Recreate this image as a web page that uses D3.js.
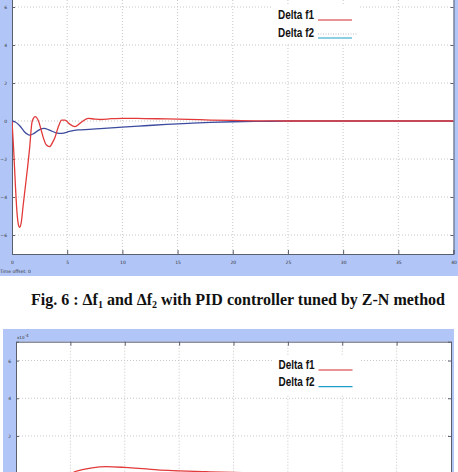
<!DOCTYPE html>
<html>
<head>
<meta charset="utf-8">
<script src="https://cdn.jsdelivr.net/npm/d3@7"></script>
<style>
  body { margin:0; background:#fff; }
  svg { display:block; }
</style>
</head>
<body>
<svg id="drawing_region"></svg>
<script>
// Fig. 6 : PID tuned by Z-N (values x10^-3)
const t_f1_zn = [0, 0.15, 0.3, 0.45, 0.6, 0.7, 0.85, 1.0, 1.2, 1.4, 1.6, 1.8, 1.95, 2.1, 2.4, 2.7, 2.85, 3.1, 3.4, 3.7, 3.9, 4.2, 4.5, 4.8, 5.2, 5.7, 6.2, 6.9, 7.5, 8, 9, 10, 12, 14, 16, 18, 20, 22, 25, 30, 35, 40];
const f1_zn = [0, -1.5, -3.3, -4.8, -5.5, -5.6, -5.3, -4.5, -3.5, -2.5, -1.4, -0.1, 0.15, 0.23, 0.0, -0.6, -0.9, -1.25, -1.35, -1.1, -0.85, -0.3, 0.05, 0.05, -0.15, -0.3, -0.1, 0.14, 0.1, 0.08, 0.12, 0.14, 0.13, 0.11, 0.09, 0.05, 0.03, 0.01, 0, 0, 0, 0];
const t_f2_zn = [0, 0.3, 0.7, 1.1, 1.6, 2.0, 2.5, 2.9, 3.4, 4.0, 4.5, 5.2, 6, 7, 8, 9, 10, 12, 14, 16, 18, 20, 22, 25, 30, 40];
const f2_zn = [0, -0.05, -0.25, -0.55, -0.74, -0.65, -0.45, -0.39, -0.48, -0.62, -0.65, -0.55, -0.47, -0.44, -0.4, -0.36, -0.32, -0.25, -0.18, -0.12, -0.07, -0.04, -0.02, 0, 0, 0];

// next figure, only its top is in the picture (values x10^-4)
const t_f1_next = [0, 0.5, 1, 2, 3, 4, 5, 5.4, 6, 7, 8.3, 10, 12, 13, 15, 17.5, 20, 25, 30, 40];
const f1_next = [0, -4, -3, -1.8, -1, -0.45, -0.05, 0.1, 0.2, 0.31, 0.37, 0.33, 0.25, 0.2, 0.15, 0.1, 0.06, 0.02, 0, 0];
const t_f2_next = [0, 1, 2, 4, 6, 8, 10, 15, 20, 25, 30, 40];
const f2_next = [0, -1.5, -2.2, -1.6, -1.0, -0.6, -0.35, -0.1, -0.03, 0, 0, 0];

const x_ticks = [0, 5, 10, 15, 20, 25, 30, 35, 40];
const y_ticks = [-6, -4, -2, 0, 2, 4, 6];
const legend_labels = ['Delta f1', 'Delta f2'];

const H = 472;

const svg = d3.select('#drawing_region')
    .attr('width', 458)
    .attr('height', H);

class ScopePlot {

    constructor( config, series ) {
        this.config = config;
        this.series = series;
        this.init();
    }

    init() {
        let self = this;
        let c = self.config;

        self.g = svg.append('g');

        // blue figure background
        self.g.append('rect')
            .attr('x', c.panel[0]).attr('y', c.panel[1])
            .attr('width', c.panel[2] - c.panel[0])
            .attr('height', c.panel[3] - c.panel[1])
            .attr('fill', '#b1c6f7');

        self.xscale = d3.scaleLinear()
            .domain([0, 40])
            .range([c.left, c.right]);

        self.yscale = d3.scaleLinear()
            .domain([-7, 7])
            .range([c.bottom, c.top]);

        self.g.append('rect')
            .attr('x', c.left).attr('y', c.top)
            .attr('width', c.right - c.left)
            .attr('height', c.bottom - c.top)
            .attr('fill', '#fff');

        self.clip_id = 'clip' + c.name;
        self.g.append('clipPath').attr('id', self.clip_id)
            .append('rect')
            .attr('x', c.left).attr('y', c.top)
            .attr('width', c.right - c.left)
            .attr('height', c.bottom - c.top);
    }

    render() {
        let self = this;
        let c = self.config;

        // grid
        let grid = self.g.append('g')
            .attr('stroke', '#c8c8c8')
            .attr('stroke-width', 1)
            .attr('stroke-dasharray', '1,2');
        grid.selectAll('.vg')
            .data(x_ticks.slice(1, -1))
            .join('line')
            .attr('x1', d => self.xscale(d)).attr('x2', d => self.xscale(d))
            .attr('y1', c.top).attr('y2', c.bottom);
        grid.selectAll('.hg')
            .data(y_ticks)
            .join('line')
            .attr('x1', c.left).attr('x2', c.right)
            .attr('y1', d => self.yscale(d)).attr('y2', d => self.yscale(d));

        // legend box hides grid
        let lg = self.g.append('g');
        lg.append('rect')
            .attr('x', c.legend.x - 6).attr('y', c.legend.y - 10)
            .attr('width', 88).attr('height', 39)
            .attr('fill', '#fff');

        // only label what falls inside the picture
        let inView = v => v > 0 && v < H - 4;
        let fmt = d3.format('d');

        // axes (ticks inside the box on all four sides)
        let xb = d3.axisBottom(self.xscale).tickValues(x_ticks).tickSize(-4).tickPadding(7)
            .tickFormat(d => inView(c.bottom + 8) ? fmt(d) : '');
        let xt = d3.axisTop(self.xscale).tickValues(x_ticks).tickSize(-4).tickFormat('');
        let yl = d3.axisLeft(self.yscale).tickValues(y_ticks).tickSize(-3).tickPadding(5)
            .tickFormat(d => inView(self.yscale(d)) ? fmt(d) : '');
        let yr = d3.axisRight(self.yscale).tickValues(y_ticks).tickSize(-3).tickFormat('');

        let axes = [
            self.g.append('g').attr('transform', `translate(0,${c.bottom})`).call(xb),
            self.g.append('g').attr('transform', `translate(0,${c.top})`).call(xt),
            self.g.append('g').attr('transform', `translate(${c.left},0)`).call(yl),
            self.g.append('g').attr('transform', `translate(${c.right},0)`).call(yr),
        ];
        axes.forEach(a => {
            a.select('.domain').attr('stroke', '#5a5f6e');
            a.selectAll('.tick line').attr('stroke', '#5a5f6e');
            a.selectAll('text').filter(function() { return this.textContent === ''; }).remove();
            a.selectAll('text')
                .attr('font-family', 'DejaVu Sans')
                .attr('font-size', 4.5)
                .attr('fill', '#333');
        });

        // curves
        let line = d3.line()
            .x(d => self.xscale(d.t))
            .y(d => self.yscale(d.v))
            .curve(d3.curveMonotoneX);

        let curves = self.g.append('g').attr('clip-path', `url(#${self.clip_id})`);
        self.series.forEach(s => {
            curves.append('path')
                .datum(s.t.map((t, i) => ({t: t, v: s.v[i]})))
                .attr('d', line)
                .attr('fill', 'none')
                .attr('stroke', s.color)
                .attr('stroke-width', 1.3);
        });

        // legend
        legend_labels.forEach((label, i) => {
            let y = c.legend.y + i * c.legend.step;
            lg.append('text')
                .attr('x', c.legend.x).attr('y', y + 4)
                .attr('font-family', '"Liberation Sans", Arial, sans-serif')
                .attr('font-weight', 'bold')
                .attr('font-size', 12)
                .attr('textLength', 36)
                .attr('lengthAdjust', 'spacingAndGlyphs')
                .attr('fill', '#111')
                .text(label);
            if (i == 1 && c.dotted) {
                lg.append('line')
                    .attr('x1', c.legend.x + 40).attr('x2', c.legend.x + 80)
                    .attr('y1', y + 1).attr('y2', y + 1)
                    .attr('stroke', '#bbb').attr('stroke-dasharray', '1,1.5');
            }
            lg.append('line')
                .attr('x1', c.legend.x + 40).attr('x2', c.legend.x + 74)
                .attr('y1', y + 5).attr('y2', y + 5)
                .attr('stroke', i == 0 ? '#d42a2a' : '#1e9ec8')
                .attr('stroke-width', 1.2);
        });

        if (c.exponent) {
            let e = self.g.append('text')
                .attr('x', c.left + 1).attr('y', c.top - 3)
                .attr('font-family', 'DejaVu Sans')
                .attr('font-size', 4)
                .attr('fill', '#333')
                .text('x10');
            e.append('tspan').attr('dy', -2).text(c.exponent);
        }
        if (c.offset_label) {
            self.g.append('text')
                .attr('x', 0).attr('y', c.bottom + 19)
                .attr('font-family', 'DejaVu Sans')
                .attr('font-size', 4.5)
                .attr('fill', '#333')
                .text(c.offset_label);
        }
    }
}

let zn_plot = new ScopePlot({
    name: 'zn',
    panel: [0, -20, 458, 276],
    left: 12, right: 453.5, top: -12, bottom: 254,
    legend: {x: 278, y: 15, step: 18},
    dotted: true,
    offset_label: 'Time offset:  0',
}, [
    {t: t_f2_zn, v: f2_zn, color: '#3d4b9e'},
    {t: t_f1_zn, v: f1_zn, color: '#e23a3a'},
]);
zn_plot.render();

// caption
let cap = svg.append('text')
    .attr('x', 238).attr('y', 305)
    .attr('text-anchor', 'middle')
    .attr('font-family', '"Liberation Serif", "Times New Roman", serif')
    .attr('font-weight', 'bold')
    .attr('font-size', 16)
    .attr('fill', '#111');
cap.append('tspan').text('Fig. 6 : \u0394f');
cap.append('tspan').attr('font-size', 10).attr('dy', 3).text('1');
cap.append('tspan').attr('dy', -3).text(' and \u0394f');
cap.append('tspan').attr('font-size', 10).attr('dy', 3).text('2');
cap.append('tspan').attr('dy', -3).text(' with PID controller tuned by Z-N method');

let next_plot = new ScopePlot({
    name: 'next',
    panel: [3, 329, 454, 620],
    left: 16, right: 451, top: 341.7, bottom: 605.6,
    legend: {x: 278.5, y: 365, step: 16.7},
    dotted: false,
    exponent: '-4',
}, [
    {t: t_f2_next, v: f2_next, color: '#3d4b9e'},
    {t: t_f1_next, v: f1_next, color: '#e23a3a'},
]);
next_plot.render();
</script>
</body>
</html>
